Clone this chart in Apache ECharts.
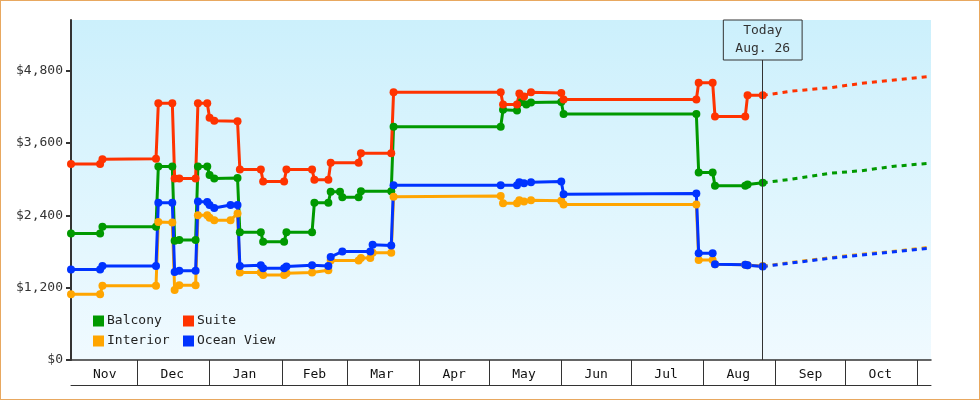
<!DOCTYPE html>
<html>
<head>
<meta charset="utf-8">
<script src="https://cdn.jsdelivr.net/npm/echarts@6/dist/echarts.min.js"></script>
<style>
  html, body { margin: 0; padding: 0; background: #fff; }
  #chart { width: 980px; height: 400px; box-sizing: border-box; border: 1px solid #e8a860; }
</style>
</head>
<body>
<div id="chart"></div>
<script>
// axis range and labels
var xMin = '2013-11-02 12:00'
var xMax = '2014-11-06 18:00'
var today = '2014-08-26 12:00'
var todayText = 'Today\nAug. 26'
var monthNames = ['Jan', 'Feb', 'Mar', 'Apr', 'May', 'Jun', 'Jul', 'Aug', 'Sep', 'Oct', 'Nov', 'Dec']
var monthStarts = ['2013-12-01', '2014-01-01', '2014-02-01', '2014-03-01', '2014-04-01', '2014-05-01',
  '2014-06-01', '2014-07-01', '2014-08-01', '2014-09-01', '2014-10-01', '2014-11-01']
var labelDates = ['2013-11-17', '2013-12-16', '2014-01-16', '2014-02-15', '2014-03-16', '2014-04-16',
  '2014-05-16', '2014-06-16', '2014-07-16', '2014-08-16', '2014-09-16', '2014-10-16']
var yMax = 5640
var yTicks = [0, 1200, 2400, 3600, 4800]

// price history
var balcony = [
  ['2013-11-02 12:00', 2100], ['2013-11-15', 2100], ['2013-11-16', 2210], ['2013-12-09', 2210],
  ['2013-12-10', 3210], ['2013-12-16', 3210], ['2013-12-17', 1980], ['2013-12-19', 1990],
  ['2013-12-26', 1990], ['2013-12-27', 3210], ['2013-12-31', 3210], ['2014-01-01', 3070],
  ['2014-01-03', 3010], ['2014-01-13', 3020], ['2014-01-14', 2120], ['2014-01-23', 2120],
  ['2014-01-24', 1960], ['2014-02-02', 1960], ['2014-02-03', 2120], ['2014-02-14', 2120],
  ['2014-02-15', 2610], ['2014-02-21', 2610], ['2014-02-22', 2790], ['2014-02-26', 2790],
  ['2014-02-27', 2700], ['2014-03-06', 2700], ['2014-03-07', 2800], ['2014-03-20', 2800],
  ['2014-03-21', 3870], ['2014-05-06', 3870], ['2014-05-07', 4150], ['2014-05-13', 4140],
  ['2014-05-15', 4280], ['2014-05-17', 4240], ['2014-05-19', 4270], ['2014-06-01', 4280],
  ['2014-06-02', 4080], ['2014-07-29', 4080], ['2014-07-30', 3110], ['2014-08-05', 3110],
  ['2014-08-06', 2890], ['2014-08-19', 2890], ['2014-08-20', 2910], ['2014-08-26 12:00', 2940]
]
var suite = [
  ['2013-11-02 12:00', 3250], ['2013-11-15', 3250], ['2013-11-16', 3330], ['2013-12-09', 3340],
  ['2013-12-10', 4260], ['2013-12-16', 4260], ['2013-12-17', 3010], ['2013-12-19', 3010],
  ['2013-12-26', 3010], ['2013-12-27', 4260], ['2013-12-31', 4260], ['2014-01-01', 4020],
  ['2014-01-03', 3970], ['2014-01-13', 3960], ['2014-01-14', 3160], ['2014-01-23', 3160],
  ['2014-01-24', 2960], ['2014-02-02', 2960], ['2014-02-03', 3160], ['2014-02-14', 3160],
  ['2014-02-15', 2990], ['2014-02-21', 2990], ['2014-02-22', 3270], ['2014-03-06', 3270],
  ['2014-03-07', 3430], ['2014-03-20', 3430], ['2014-03-21', 4440], ['2014-05-06', 4440],
  ['2014-05-07', 4240], ['2014-05-13', 4240], ['2014-05-14', 4420], ['2014-05-16', 4370],
  ['2014-05-19', 4440], ['2014-06-01', 4430], ['2014-06-02', 4320], ['2014-07-29', 4320],
  ['2014-07-30', 4600], ['2014-08-05', 4600], ['2014-08-06', 4040], ['2014-08-19', 4040],
  ['2014-08-20', 4390], ['2014-08-26 12:00', 4390]
]
var interior = [
  ['2013-11-02 12:00', 1090], ['2013-11-15', 1090], ['2013-11-16', 1230], ['2013-12-09', 1230],
  ['2013-12-10', 2290], ['2013-12-16', 2280], ['2013-12-17', 1160], ['2013-12-19', 1240],
  ['2013-12-26', 1240], ['2013-12-27', 2400], ['2013-12-31', 2400], ['2014-01-01', 2360],
  ['2014-01-03', 2320], ['2014-01-10', 2320], ['2014-01-13', 2430], ['2014-01-14', 1450],
  ['2014-01-23', 1450], ['2014-01-24', 1410], ['2014-02-02', 1410], ['2014-02-03', 1440],
  ['2014-02-14', 1450], ['2014-02-21', 1490], ['2014-02-22', 1650], ['2014-03-06', 1650],
  ['2014-03-07', 1690], ['2014-03-11', 1690], ['2014-03-12', 1780], ['2014-03-20', 1780],
  ['2014-03-21', 2710], ['2014-05-06', 2720], ['2014-05-07', 2600], ['2014-05-13', 2600],
  ['2014-05-14', 2650], ['2014-05-16', 2630], ['2014-05-19', 2650], ['2014-06-01', 2640],
  ['2014-06-02', 2580], ['2014-07-29', 2580], ['2014-07-30', 1660], ['2014-08-05', 1660],
  ['2014-08-06', 1590], ['2014-08-19', 1580], ['2014-08-20', 1570], ['2014-08-26 12:00', 1560]
]
var oceanView = [
  ['2013-11-02 12:00', 1500], ['2013-11-15', 1500], ['2013-11-16', 1560], ['2013-12-09', 1560],
  ['2013-12-10', 2610], ['2013-12-16', 2610], ['2013-12-17', 1460], ['2013-12-19', 1480],
  ['2013-12-26', 1480], ['2013-12-27', 2630], ['2013-12-31', 2620], ['2014-01-01', 2570],
  ['2014-01-03', 2520], ['2014-01-10', 2570], ['2014-01-13', 2570], ['2014-01-14', 1560],
  ['2014-01-23', 1570], ['2014-01-24', 1520], ['2014-02-02', 1520], ['2014-02-03', 1550],
  ['2014-02-14', 1570], ['2014-02-21', 1560], ['2014-02-22', 1710], ['2014-02-27', 1800],
  ['2014-03-11', 1800], ['2014-03-12', 1910], ['2014-03-20', 1900], ['2014-03-21', 2900],
  ['2014-05-06', 2900], ['2014-05-13', 2900], ['2014-05-14', 2950], ['2014-05-16', 2930],
  ['2014-05-19', 2950], ['2014-06-01', 2960], ['2014-06-02', 2750], ['2014-07-29', 2760],
  ['2014-07-30', 1770], ['2014-08-05', 1770], ['2014-08-06', 1590], ['2014-08-19', 1580],
  ['2014-08-20', 1570], ['2014-08-26 12:00', 1550]
]

// forecast after today (dotted)
var balconyForecast = [['2014-08-26 12:00', 2940], ['2014-09-08', 3000], ['2014-09-25', 3100],
  ['2014-10-08', 3140], ['2014-10-21', 3210], ['2014-11-05', 3260]]
var suiteForecast = [['2014-08-26 12:00', 4390], ['2014-09-08', 4460], ['2014-09-25', 4520],
  ['2014-10-08', 4590], ['2014-10-21', 4640], ['2014-11-05', 4700]]
var interiorForecast = [['2014-08-26 12:00', 1555], ['2014-09-08', 1620], ['2014-09-25', 1700],
  ['2014-10-08', 1755], ['2014-10-21', 1800], ['2014-11-05', 1865]]
var oceanViewForecast = [['2014-08-26 12:00', 1550], ['2014-09-08', 1610], ['2014-09-25', 1690],
  ['2014-10-08', 1740], ['2014-10-21', 1790], ['2014-11-05', 1850]]

var colors = { Balcony: '#009900', Suite: '#ff3300', Interior: '#ffa500', 'Ocean View': '#0033ff' }
var font = 'DejaVu Sans Mono'
var gridHeight = 340
var boxHeight = 40

// dates -> timestamps for a plain value axis
function t(s) { return +echarts.time.parse(s) }
function pts(data) { return data.map(function (p) { return [t(p[0]), p[1]] }) }

function history(name, data) {
  return {
    name: name, type: 'line', data: pts(data), animation: false,
    symbol: 'circle', symbolSize: 8, showSymbol: true,
    itemStyle: { color: colors[name] },
    lineStyle: { color: colors[name], width: 3 },
    z: 3
  }
}
function forecast(name, data) {
  return {
    name: name, type: 'line', data: pts(data), animation: false,
    showSymbol: false, symbol: 'none',
    itemStyle: { color: colors[name] },
    lineStyle: { color: colors[name], width: 3, type: [5, 5] },
    z: 3
  }
}

var legendStyle = {
  orient: 'vertical', top: 313, padding: 0,
  icon: 'rect', itemWidth: 11, itemHeight: 11, itemGap: 6, selectedMode: false,
  textStyle: { fontFamily: font, fontSize: 13, color: '#222', lineHeight: 14, padding: [0, 0, 0, -2] }
}

var chart = echarts.init(document.getElementById('chart'))
chart.setOption({
  textStyle: { fontFamily: font },
  grid: {
    left: 70, top: 19, width: 860, height: gridHeight,
    show: true, borderWidth: 0,
    backgroundColor: new echarts.graphic.LinearGradient(0, 0, 0, 1, [
      { offset: 0, color: '#ccf0fc' },
      { offset: 1, color: '#f0faff' }
    ])
  },
  legend: [
    Object.assign({ data: ['Balcony', 'Interior'], left: 92 }, legendStyle),
    Object.assign({ data: ['Suite', 'Ocean View'], left: 182 }, legendStyle)
  ],
  xAxis: [
    {
      type: 'value', min: t(xMin), max: t(xMax),
      axisLine: { show: true, lineStyle: { color: '#333', width: 1.5 } },
      axisTick: { show: true, customValues: monthStarts.map(t), length: 25, lineStyle: { color: '#333', width: 1 } },
      axisLabel: {
        customValues: labelDates.map(t), margin: 8, fontFamily: font, fontSize: 13, color: '#111',
        formatter: function (v) { return monthNames[new Date(v).getMonth()] }
      },
      splitLine: { show: false }
    },
    {
      type: 'value', min: 0, max: 1, position: 'bottom', offset: 25,
      axisLine: { show: true, lineStyle: { color: '#333', width: 1 } },
      axisTick: { show: false }, axisLabel: { show: false }, splitLine: { show: false }
    }
  ],
  yAxis: {
    type: 'value', min: 0, max: yMax,
    axisLine: { show: true, lineStyle: { color: '#333', width: 2 } },
    axisTick: { show: true, customValues: yTicks, length: 5, lineStyle: { color: '#333', width: 2 } },
    axisLabel: {
      customValues: yTicks, margin: 8, fontFamily: font, fontSize: 13, color: '#333',
      formatter: function (v) { return '$' + v.toLocaleString('en-US') }
    },
    splitLine: { show: false }
  },
  series: [
    {
      name: 'today', type: 'line', data: [], animation: false, z: 1,
      markLine: {
        silent: true, symbol: ['none', 'none'], animation: false,
        lineStyle: { color: '#333', width: 1, type: 'solid' },
        label: {
          show: true, position: 'end', distance: 0, formatter: todayText,
          fontFamily: font, fontSize: 13, lineHeight: 18, color: '#333',
          borderColor: '#333', borderWidth: 1, padding: [2, 12, 2, 12]
        },
        data: [[
          { coord: [t(today), 0] },
          { coord: [t(today), yMax * (gridHeight - boxHeight) / gridHeight] }
        ]]
      }
    },
    history('Balcony', balcony),
    history('Suite', suite),
    history('Interior', interior),
    history('Ocean View', oceanView),
    forecast('Balcony', balconyForecast),
    forecast('Suite', suiteForecast),
    forecast('Interior', interiorForecast),
    forecast('Ocean View', oceanViewForecast)
  ]
})
</script>
</body>
</html>
